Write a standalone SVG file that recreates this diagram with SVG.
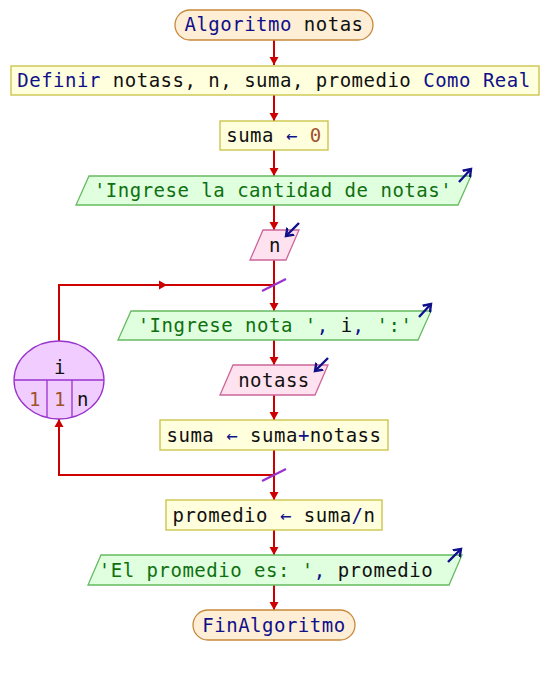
<svg xmlns="http://www.w3.org/2000/svg" width="548" height="675" viewBox="0 0 548 675">
<defs>
<style>
text{font-family:"DejaVu Sans Mono","Liberation Mono",monospace;font-size:19px;letter-spacing:0.5px;fill:#111;text-anchor:middle}
.term{fill:#fdeed5;stroke:#c8883a;stroke-width:1.3}
.proc{fill:#ffffdd;stroke:#c8c040;stroke-width:1.3}
.out{fill:#dfffdf;stroke:#66bb60;stroke-width:1.3}
.inp{fill:#ffe2ef;stroke:#cc6699;stroke-width:1.3}
.loop{fill:#f0ccff;stroke:#9933cc;stroke-width:1.3}
.kw{fill:#10108a}
.str{fill:#107010}
.num{fill:#a0522d}
.op{fill:#10108a}
.con{stroke:#cc0000;stroke-width:2;fill:none}
.slash{stroke:#9933cc;stroke-width:2.2}
.io{stroke:#10108a;stroke-width:2.4;fill:none}
</style>
<marker id="ah" markerWidth="11" markerHeight="10" refX="8" refY="5" orient="auto" markerUnits="userSpaceOnUse">
<path d="M0,0.5 L8,5 L0,9.5 Z" fill="#cc0000"/>
</marker>
<marker id="bh" markerWidth="10" markerHeight="12" refX="7" refY="6" orient="auto" markerUnits="userSpaceOnUse">
<path d="M0,1 L7,6 L0,11" fill="none" stroke="#10108a" stroke-width="2.4"/>
</marker>
</defs>
<g id="connectors">
<line class="con" x1="274" y1="40" x2="274" y2="65" marker-end="url(#ah)"/>
<line class="con" x1="274" y1="95" x2="274" y2="121" marker-end="url(#ah)"/>
<line class="con" x1="274" y1="150" x2="274" y2="176" marker-end="url(#ah)"/>
<line class="con" x1="274" y1="205" x2="274" y2="230" marker-end="url(#ah)"/>
<line class="con" x1="274" y1="260" x2="274" y2="311" marker-end="url(#ah)"/>
<line class="con" x1="274" y1="340" x2="274" y2="365" marker-end="url(#ah)"/>
<line class="con" x1="274" y1="395" x2="274" y2="420" marker-end="url(#ah)"/>
<line class="con" x1="274" y1="450" x2="274" y2="500" marker-end="url(#ah)"/>
<line class="con" x1="274" y1="530" x2="274" y2="555" marker-end="url(#ah)"/>
<line class="con" x1="274" y1="585" x2="274" y2="610" marker-end="url(#ah)"/>
<polyline class="con" points="59,341 59,285 274,285"/>
<line class="con" x1="150" y1="285" x2="167" y2="285" marker-end="url(#ah)"/>
<polyline class="con" points="274,475 59,475 59,419" marker-end="url(#ah)"/>
<line class="slash" x1="262" y1="291" x2="286" y2="279"/>
<line class="slash" x1="262" y1="481" x2="286" y2="469"/>
</g>
<g id="start">
<rect class="term" x="175" y="10" width="198" height="30" rx="15"/>
<text x="274" y="31"><tspan class="kw">Algoritmo</tspan> notas</text>
</g>
<g id="define">
<rect class="proc" x="11" y="66" width="528" height="29"/>
<text x="274" y="87"><tspan class="kw">Definir</tspan> notass, n, suma, promedio <tspan class="kw">Como Real</tspan></text>
</g>
<g id="init">
<rect class="proc" x="220" y="121" width="108" height="29"/>
<text x="274" y="142">suma <tspan class="op">←</tspan> <tspan class="num">0</tspan></text>
</g>
<g id="out1">
<polygon class="out" points="89,176 471,176 458,205 76,205"/>
<text x="273" y="197"><tspan class="str">'Ingrese la cantidad de notas'</tspan></text>
<line class="io" x1="459" y1="182" x2="471" y2="169" marker-end="url(#bh)"/>
</g>
<g id="in1">
<polygon class="inp" points="263,230 299,230 286,260 250,260"/>
<text x="275" y="252">n</text>
<line class="io" x1="299" y1="223" x2="286" y2="236" marker-end="url(#bh)"/>
</g>
<g id="loop">
<ellipse class="loop" cx="59" cy="380" rx="45" ry="39"/>
<line class="loop" x1="14" y1="380" x2="104" y2="380"/>
<line class="loop" x1="47" y1="380" x2="47" y2="417"/>
<line class="loop" x1="72" y1="380" x2="72" y2="417"/>
<text x="60" y="374">i</text>
<text x="35" y="406" class="num">1</text>
<text x="60" y="406" class="num">1</text>
<text x="83" y="406">n</text>
</g>
<g id="out2">
<polygon class="out" points="131,311 431,311 418,340 118,340"/>
<text x="275" y="332"><tspan class="str">'Ingrese nota '</tspan><tspan class="op">,</tspan> i<tspan class="op">,</tspan> <tspan class="str">':'</tspan></text>
<line class="io" x1="419" y1="317" x2="431" y2="304" marker-end="url(#bh)"/>
</g>
<g id="in2">
<polygon class="inp" points="233,365 328,365 315,395 220,395"/>
<text x="274" y="387">notass</text>
<line class="io" x1="328" y1="358" x2="315" y2="371" marker-end="url(#bh)"/>
</g>
<g id="acc">
<rect class="proc" x="160" y="420" width="228" height="30"/>
<text x="274" y="442">suma <tspan class="op">←</tspan> suma<tspan class="op">+</tspan>notass</text>
</g>
<g id="avg">
<rect class="proc" x="166" y="500" width="216" height="30"/>
<text x="274" y="522">promedio <tspan class="op">←</tspan> suma<tspan class="op">/</tspan>n</text>
</g>
<g id="out3">
<polygon class="out" points="101,555 462,555 449,585 88,585"/>
<text x="266" y="577"><tspan class="str">'El promedio es: '</tspan><tspan class="op">,</tspan> promedio</text>
<line class="io" x1="448" y1="562" x2="461" y2="549" marker-end="url(#bh)"/>
</g>
<g id="end">
<rect class="term" x="193" y="610" width="162" height="30" rx="15"/>
<text x="274" y="632"><tspan class="kw">FinAlgoritmo</tspan></text>
</g>
</svg>
